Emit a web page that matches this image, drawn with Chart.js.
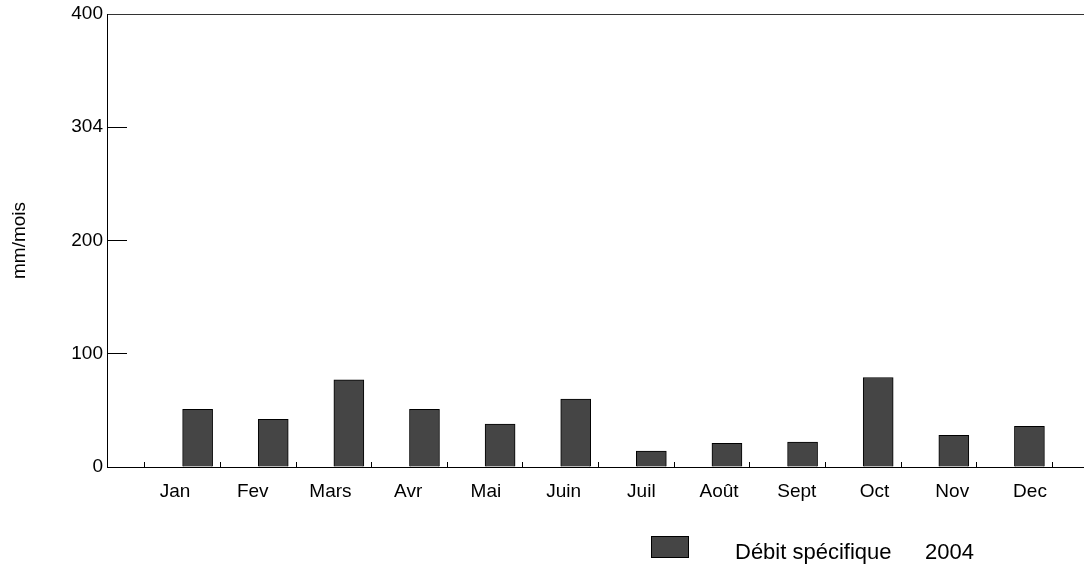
<!DOCTYPE html>
<html lang="fr">
<head>
<meta charset="utf-8">
<title>Débit spécifique 2004</title>
<script src="https://cdn.jsdelivr.net/npm/chart.js@4.4.1/dist/chart.umd.min.js"></script>
<style>
  html, body { margin: 0; padding: 0; background: #ffffff; }
  .chart-wrap { position: relative; width: 1084px; height: 567px; }
</style>
</head>
<body>
<div class="chart-wrap"><canvas id="debitChart"></canvas></div>
<script>
const monthLabels = ["Jan", "Fev", "Mars", "Avr", "Mai", "Juin", "Juil", "Août", "Sept", "Oct", "Nov", "Dec"];
const monthPositions = [1, 2, 3, 4, 5, 6, 7, 8, 9, 10, 11, 12];
const debitValues = [51, 42, 77, 51, 38, 60, 14, 21, 22, 79, 28, 36];
const emptyValues = [0, 0, 0, 0, 0, 0, 0, 0, 0, 0, 0, 0];
const yTickValues = [0, 100, 200, 300, 400];
const yTickLabels = ["0", "100", "200", "304", "400"];
const seriesLabel = "Débit spécifique";
const seriesYear = "2004";
const yAxisTitle = "mm/mois";

const fontFamily = "'Liberation Sans', Arial, Helvetica, sans-serif";
const barFill = "#454545";

Chart.defaults.font.family = fontFamily;
Chart.defaults.color = "#000000";

function toPoints(values) {
  return values.map((value, index) => ({ x: monthPositions[index], y: value }));
}

// tick marks sit between the months
function monthBoundaries() {
  const bounds = monthPositions.map((pos) => pos - 0.5);
  bounds.push(monthPositions[monthPositions.length - 1] + 0.5);
  return bounds;
}

// legend drawn by hand, the series box sits far from its text
const sideLegend = {
  id: "sideLegend",
  afterDraw(chart) {
    const ctx = chart.ctx;
    const dataset = chart.data.datasets[1];
    ctx.save();
    ctx.fillStyle = dataset.backgroundColor;
    ctx.fillRect(651, 536, 38, 22);
    ctx.strokeStyle = "#000000";
    ctx.lineWidth = 1;
    ctx.strokeRect(651.5, 536.5, 37, 21);
    ctx.font = `22px ${fontFamily}`;
    ctx.fillStyle = "#000000";
    ctx.textBaseline = "alphabetic";
    ctx.fillText(seriesLabel, 735, 559);
    ctx.fillText(seriesYear, 925, 559);
    ctx.restore();
  }
};

new Chart(document.getElementById("debitChart"), {
  type: "bar",
  data: {
    datasets: [
      {
        label: "vide",
        data: toPoints(emptyValues),
        backgroundColor: barFill,
        borderColor: "#000000",
        borderWidth: 1,
        barThickness: 30
      },
      {
        label: `${seriesLabel} ${seriesYear}`,
        data: toPoints(debitValues),
        backgroundColor: barFill,
        borderColor: "#000000",
        borderWidth: 1,
        barThickness: 30
      }
    ]
  },
  options: {
    responsive: true,
    maintainAspectRatio: false,
    animation: false,
    layout: {
      padding: { top: 14, right: 0, bottom: 0, left: 0 }
    },
    plugins: {
      legend: { display: false },
      tooltip: { enabled: false }
    },
    scales: {
      x: {
        type: "linear",
        position: "bottom",
        min: 0,
        max: 12.92,
        offset: false,
        afterBuildTicks: (scale) => {
          scale.ticks = monthBoundaries().map((value) => ({ value }));
        },
        afterFit: (scale) => {
          scale.height = 0;
        },
        ticks: { display: false },
        grid: {
          offset: false,
          drawOnChartArea: false,
          tickLength: -5,
          color: "#000000",
          lineWidth: 1
        },
        border: { color: "#000000", width: 1 }
      },
      xMonths: {
        type: "linear",
        position: "bottom",
        min: 0.125,
        max: 12.695,
        offset: false,
        afterBuildTicks: (scale) => {
          scale.ticks = monthPositions.map((value) => ({ value }));
        },
        afterFit: (scale) => {
          scale.height = 100;
        },
        ticks: {
          autoSkip: false,
          maxRotation: 0,
          padding: 13,
          color: "#000000",
          font: { size: 19 },
          callback: (value) => monthLabels[monthPositions.indexOf(value)]
        },
        grid: { display: false, drawTicks: false },
        border: { display: false }
      },
      xTop: {
        type: "linear",
        position: "top",
        min: 0,
        max: 1,
        afterFit: (scale) => {
          scale.height = 0;
        },
        ticks: { display: false },
        grid: { display: false, drawTicks: false },
        border: { color: "#333333", width: 1 }
      },
      y: {
        type: "linear",
        min: 0,
        max: 400,
        afterBuildTicks: (scale) => {
          scale.ticks = yTickValues.map((value) => ({ value }));
        },
        afterFit: (scale) => {
          // labels are pushed out past the inward ticks, keep that out of the layout
          scale.width = 107;
          scale.paddingTop = 0;
          scale.paddingBottom = 0;
        },
        ticks: {
          padding: 24,
          color: "#000000",
          font: { size: 19 },
          callback: (value) => yTickLabels[yTickValues.indexOf(value)]
        },
        grid: {
          drawOnChartArea: false,
          tickLength: -20,
          color: "#000000",
          lineWidth: 1
        },
        border: { color: "#000000", width: 1 },
        title: {
          display: true,
          text: yAxisTitle,
          color: "#000000",
          font: { size: 19 },
          padding: { top: 8, bottom: 0 }
        }
      }
    }
  },
  plugins: [sideLegend]
});
</script>
</body>
</html>
